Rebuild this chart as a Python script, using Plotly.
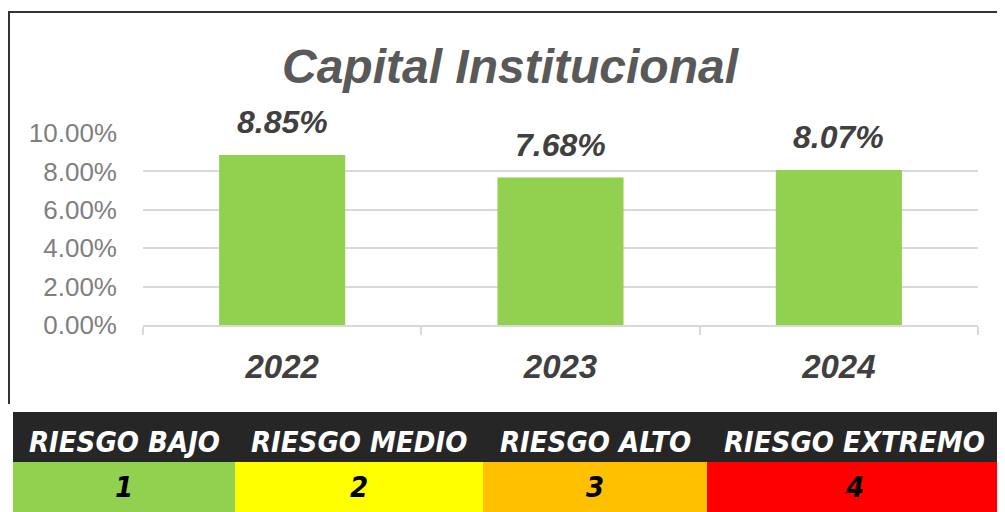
import plotly.graph_objects as go

# ---- data ----
years = ["2022", "2023", "2024"]
capital = [0.0885, 0.0768, 0.0807]
value_labels = ["8.85%", "7.68%", "8.07%"]
y_ticks = [0.0, 0.02, 0.04, 0.06, 0.08, 0.10]
y_tick_labels = ["0.00%", "2.00%", "4.00%", "6.00%", "8.00%", "10.00%"]
risk_labels = ["RIESGO BAJO", "RIESGO MEDIO", "RIESGO ALTO", "RIESGO EXTREMO"]
risk_levels = ["1", "2", "3", "4"]
risk_colors = ["#92D050", "#FFFF00", "#FFC000", "#FF0000"]
risk_col_widths = [222, 248, 224, 295]
header_color = "#262626"

W, H = 1005, 512
OFF = 8  # page body margin offset (screen = figure + 8px)
ARIAL = "Liberation Sans, Arial, sans-serif"
NARROW = "Liberation Sans Narrow, DejaVu Sans Condensed, sans-serif"


def px(x):  # screen x -> paper fraction
    return (x - OFF) / W


def py(y):  # screen y -> paper fraction (from bottom)
    return 1 - (y - OFF) / H


# column edges of the risk table (layout helper)
col_edges = [0]
for w_ in risk_col_widths:
    col_edges.append(col_edges[-1] + w_)
col_centers = [(a + b) / 2 for a, b in zip(col_edges[:-1], col_edges[1:])]

fig = go.Figure()

fig.add_trace(go.Bar(
    x=years, y=capital,
    marker=dict(color="#92D050", line=dict(width=0)),
    width=0.453,
    hoverinfo="skip",
    showlegend=False,
))

# data labels (category index positions on the category axis)
for i, (v, lab) in enumerate(zip(capital, value_labels)):
    fig.add_annotation(
        x=i, y=v, xref="x", yref="y",
        text="<b><i>" + lab + "</i></b>",
        showarrow=False, yanchor="bottom", yshift=13,
        font=dict(family=ARIAL, size=32, color="#404040"),
    )

# risk table drawn as two heatmap rows on their own axes
fig.add_trace(go.Heatmap(
    x=col_edges, y=[1, 2], z=[[0, 0, 0, 0]],
    colorscale=[[0, header_color], [1, header_color]],
    showscale=False, hoverinfo="skip", xgap=0, ygap=0,
    xaxis="x2", yaxis="y2",
))
fig.add_trace(go.Heatmap(
    x=col_edges, y=[0, 1], z=[list(range(len(risk_levels)))],
    zmin=0, zmax=len(risk_colors) - 1,
    colorscale=[[i / (len(risk_colors) - 1), c] for i, c in enumerate(risk_colors)],
    showscale=False, hoverinfo="skip", xgap=0, ygap=0,
    xaxis="x2", yaxis="y2",
))
for xc, lab, lev in zip(col_centers, risk_labels, risk_levels):
    fig.add_annotation(
        x=xc, y=1.5, xref="x2", yref="y2", yshift=-5,
        text="<b><i>" + lab + "</i></b>", showarrow=False,
        font=dict(family=NARROW, size=29, color="white"),
    )
    fig.add_annotation(
        x=xc, y=0.5, xref="x2", yref="y2",
        text="<b><i>" + lev + "</i></b>", showarrow=False,
        font=dict(family=NARROW, size=29, color="black"),
    )

# chart frame (left and top border)
fig.add_shape(type="line", xref="paper", yref="paper",
              x0=px(9), x1=px(9), y0=py(12), y1=py(404),
              line=dict(color="#333333", width=2))
fig.add_shape(type="line", xref="paper", yref="paper",
              x0=px(8), x1=1.0, y0=py(12), y1=py(12),
              line=dict(color="#333333", width=2))

fig.update_layout(
    width=W, height=H,
    margin=dict(l=0, r=0, t=0, b=0, autoexpand=False),
    paper_bgcolor="white", plot_bgcolor="white",
    title=dict(
        text="<b><i>Capital Institucional</i></b>",
        x=px(510), xanchor="center",
        y=py(66), yanchor="middle",
        font=dict(family=ARIAL, size=48, color="#595959"),
    ),
    bargap=0.547,
    xaxis=dict(
        domain=[px(143), px(978)],
        type="category",
        range=[-0.5, 2.5],
        automargin=False,
        showgrid=False,
        showline=True, linecolor="#d9d9d9", linewidth=1.5,
        ticks="outside", tickson="boundaries", ticklen=8,
        tickcolor="#d9d9d9", tickwidth=1.5,
        ticklabelstandoff=12,
        tickangle=0,
        tickfont=dict(family=ARIAL, size=33, color="#404040", weight="bold", style="italic"),
    ),
    yaxis=dict(
        domain=[py(325), py(133)],
        range=[0, 0.10],
        automargin=False,
        tickvals=y_ticks, ticktext=y_tick_labels,
        showgrid=True, gridcolor="#d9d9d9", gridwidth=1.5,
        zeroline=False,
        ticks="", ticklabelstandoff=25,
        tickfont=dict(family=ARIAL, size=26, color="#7f7f7f"),
    ),
    xaxis2=dict(
        domain=[px(13), px(1002)], range=[0, col_edges[-1]],
        anchor="y2", visible=False, fixedrange=True, automargin=False,
    ),
    yaxis2=dict(
        domain=[max(py(512), 0), py(412)], range=[0, 2],
        anchor="x2", visible=False, fixedrange=True, automargin=False,
    ),
)

fig.write_html("out.html")
